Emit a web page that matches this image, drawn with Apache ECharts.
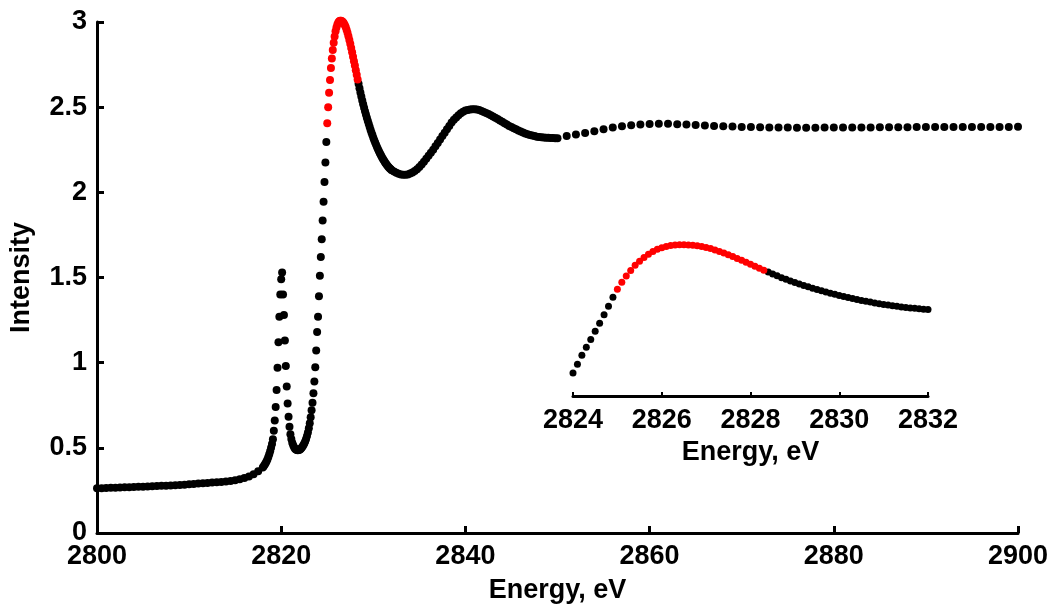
<!DOCTYPE html>
<html><head><meta charset="utf-8">
<script src="https://cdn.jsdelivr.net/npm/echarts@6/dist/echarts.min.js"></script>
<style>html,body{margin:0;padding:0;background:#fff}#c{width:1055px;height:610px}</style>
</head><body><div id="c"></div><script>
// ---- data ----
const preEdgeEnergy = [2800.0,2800.5,2801.0,2801.5,2802.0,2802.5,2803.0,2803.5,2804.0,2804.5,2805.0,2805.5,2806.0,2806.5,2807.0,2807.5,2808.0,2808.5,2809.0,2809.5,2810.0,2810.5,2811.0,2811.5,2812.0,2812.5,2813.0,2813.5,2814.0,2814.5,2815.0,2815.5,2816.0,2816.5,2817.0,2817.5];
const preEdgeIntensity = [0.262,0.263,0.264,0.265,0.266,0.267,0.268,0.269,0.270,0.271,0.272,0.273,0.274,0.276,0.277,0.278,0.279,0.281,0.282,0.284,0.286,0.288,0.290,0.292,0.294,0.296,0.298,0.300,0.303,0.306,0.310,0.316,0.323,0.332,0.345,0.362];

const edgeEnergy = [
 2818.0,2818.1,2818.2,2818.3,2818.4,2818.5,2818.6,2818.7,2818.8,2818.9,
 2819.0,2819.1,2819.2,2819.3,2819.4,2819.5,2819.6,2819.7,2819.8,2819.9,
 2820.0,2820.1,2820.2,2820.3,2820.4,2820.5,2820.6,2820.7,2820.8,2820.9,
 2821.0,2821.1,2821.2,2821.3,2821.4,2821.5,2821.6,2821.7,2821.8,2821.9,
 2822.0,2822.1,2822.2,2822.3,2822.4,2822.5,2822.6,2822.7,2822.8,2822.9,
 2823.0,2823.1,2823.2,2823.3,2823.4,2823.5,2823.6,2823.7,2823.8,2823.9,
 2824.0,2824.1,2824.2,2824.3,2824.4,2824.5,2824.6,2824.7,2824.8,2824.9,
 2825.0,2825.1,2825.2,2825.3,2825.4,2825.5,2825.6,2825.7,2825.8,2825.9,
 2826.0,2826.1,2826.2,2826.3,2826.4,2826.5,2826.6,2826.7,2826.8,2826.9,
 2827.0,2827.1,2827.2,2827.3,2827.4,2827.5,2827.6,2827.7,2827.8,2827.9,
 2828.0,2828.1,2828.2,2828.3,2828.4,2828.5,2828.6,2828.7,2828.8,2828.9,
 2829.0,2829.1,2829.2,2829.3,2829.4,2829.5,2829.6,2829.7,2829.8,2829.9,
 2830.0,2830.1,2830.2,2830.3,2830.4,2830.5,2830.6,2830.7,2830.8,2830.9,
 2831.0,2831.1,2831.2,2831.3,2831.4,2831.5,2831.6,2831.7,2831.8,2831.9,
 2832.0];
const edgeIntensity = [
 0.385,0.392,0.400,0.410,0.420,0.432,0.446,0.462,0.480,0.500,
 0.522,0.550,0.600,0.660,0.740,0.840,0.970,1.120,1.270,1.400,
 1.490,1.530,1.400,1.280,1.130,0.980,0.860,0.760,0.683,0.624,
 0.580,0.552,0.530,0.515,0.503,0.495,0.490,0.487,0.486,0.487,
 0.489,0.493,0.499,0.506,0.515,0.525,0.537,0.552,0.570,0.590,
 0.615,0.645,0.680,0.720,0.765,0.820,0.889,0.973,1.071,1.180,
 1.270,1.390,1.510,1.620,1.725,1.835,1.945,2.060,2.175,2.295,
 2.405,2.500,2.585,2.660,2.730,2.785,2.835,2.878,2.915,2.945,
 2.968,2.985,2.997,3.004,3.008,3.008,3.005,3.000,2.992,2.982,
 2.970,2.955,2.937,2.917,2.895,2.872,2.848,2.822,2.796,2.770,
 2.744,2.717,2.690,2.663,2.637,2.611,2.586,2.562,2.539,2.517,
 2.496,2.476,2.457,2.438,2.420,2.402,2.385,2.368,2.352,2.336,
 2.321,2.306,2.292,2.279,2.266,2.254,2.242,2.231,2.220,2.210,
 2.200,2.191,2.182,2.174,2.166,2.159,2.152,2.146,2.140,2.135,
 2.130];

const postEdgeEnergy = [
 2832.25,2832.5,2832.75,2833.0,2833.25,2833.5,2833.75,2834.0,
 2834.25,2834.5,2834.75,2835.0,2835.25,2835.5,2835.75,2836.0,
 2836.25,2836.5,2836.75,2837.0,2837.25,2837.5,2837.75,2838.0,
 2838.25,2838.5,2838.75,2839.0,2839.25,2839.5,2839.75,2840.0,
 2840.25,2840.5,2840.75,2841.0,2841.25,2841.5,2841.75,2842.0,
 2842.25,2842.5,2842.75,2843.0,2843.25,2843.5,2843.75,2844.0,
 2844.25,2844.5,2844.75,2845.0,2845.25,2845.5,2845.75,2846.0,
 2846.25,2846.5,2846.75,2847.0,2847.25,2847.5,2847.75,2848.0,
 2848.25,2848.5,2848.75,2849.0,2849.25,2849.5,2849.75,2850.0];
const postEdgeIntensity = [
 2.122,2.115,2.109,2.105,2.103,2.103,2.105,2.110,
 2.117,2.125,2.136,2.148,2.163,2.180,2.197,2.215,
 2.232,2.250,2.270,2.290,2.310,2.330,2.350,2.370,
 2.390,2.410,2.426,2.440,2.453,2.465,2.473,2.480,
 2.484,2.487,2.488,2.488,2.486,2.483,2.478,2.472,
 2.466,2.460,2.453,2.445,2.438,2.430,2.422,2.414,
 2.406,2.398,2.390,2.383,2.376,2.370,2.363,2.357,
 2.351,2.346,2.341,2.337,2.333,2.330,2.327,2.325,
 2.323,2.322,2.321,2.320,2.319,2.319,2.318,2.318];

const tailEnergy = [2851,2852,2853,2854,2855,2856,2857,2858,2859,2860,2861,2862,2863,2864,2865,2866,2867,2868,2869,2870,2871,2872,2873,2874,2875,2876,2877,2878,2879,2880,2881,2882,2883,2884,2885,2886,2887,2888,2889,2890,2891,2892,2893,2894,2895,2896,2897,2898,2899,2900];
const tailIntensity = [2.331,2.339,2.349,2.359,2.370,2.380,2.388,2.394,2.398,2.401,2.402,2.402,2.400,2.398,2.396,2.393,2.390,2.388,2.386,2.384,2.383,2.382,2.381,2.380,2.380,2.379,2.379,2.379,2.380,2.380,2.380,2.381,2.381,2.381,2.382,2.382,2.382,2.382,2.383,2.383,2.383,2.383,2.383,2.384,2.384,2.384,2.384,2.384,2.384,2.385];

const highlightRange = [2825.0, 2828.3];   // red-marked points
const insetRange = [2824, 2832];           // zoomed window

// ---- build series data ----
const allE = [].concat(preEdgeEnergy, edgeEnergy, postEdgeEnergy, tailEnergy);
const allI = [].concat(preEdgeIntensity, edgeIntensity, postEdgeIntensity, tailIntensity);
const eps = 1e-6;
function inRange(e, r) { return e >= r[0] - eps && e <= r[1] + eps; }
const mainBlack = [], mainRed = [], insetBlack = [], insetRed = [];
allE.forEach((e, i) => {
  const p = [e, allI[i]];
  const red = inRange(e, highlightRange);
  (red ? mainRed : mainBlack).push(p);
  if (inRange(e, insetRange)) (red ? insetRed : insetBlack).push(p);
});

const FONT = '"Liberation Sans", Arial, sans-serif';
const txt = { color: '#000', fontFamily: FONT, fontWeight: 'bold', fontSize: 27 };
const axisLine = { show: true, onZero: false, lineStyle: { color: '#000', width: 3 } };
const plain = v => String(v);

const chart = echarts.init(document.getElementById('c'), null, { renderer: 'canvas' });
chart.setOption({
  animation: false,
  backgroundColor: '#fff',
  grid: [
    { left: 97, right: 37, top: 22, bottom: 77 },
    { left: 573, right: 127, top: 230.5, bottom: 214 }
  ],
  xAxis: [
    { gridIndex: 0, type: 'value', min: 2800, max: 2900, interval: 20,
      axisLine: axisLine,
      axisTick: { show: true, inside: true, length: 7, lineStyle: { color: '#000', width: 3 } },
      axisLabel: Object.assign({ margin: 10, formatter: plain }, txt),
      splitLine: { show: false },
      name: 'Energy, eV', nameLocation: 'middle', nameGap: 44, nameTextStyle: txt },
    { gridIndex: 1, type: 'value', min: insetRange[0], max: insetRange[1], interval: 2,
      axisLine: axisLine,
      axisTick: { show: true, inside: true, length: 4, lineStyle: { color: '#000', width: 2 } },
      axisLabel: Object.assign({ margin: 11, formatter: plain }, txt),
      splitLine: { show: false },
      name: 'Energy, eV', nameLocation: 'middle', nameGap: 43, nameTextStyle: txt }
  ],
  yAxis: [
    { gridIndex: 0, type: 'value', min: 0, max: 3, interval: 0.5,
      axisLine: axisLine,
      axisTick: { show: true, inside: true, length: 7, lineStyle: { color: '#000', width: 3 } },
      axisLabel: Object.assign({ margin: 10, formatter: plain }, txt),
      splitLine: { show: false },
      name: 'Intensity', nameLocation: 'middle', nameGap: 62, nameRotate: 90, nameTextStyle: txt },
    { gridIndex: 1, type: 'value', min: 0.96, max: 3.2, show: false,
      splitLine: { show: false } }
  ],
  series: [
    { type: 'scatter', xAxisIndex: 0, yAxisIndex: 0, data: mainBlack, symbolSize: 8,
      itemStyle: { color: '#000', opacity: 1 }, clip: false, silent: true },
    { type: 'scatter', xAxisIndex: 0, yAxisIndex: 0, data: mainRed, symbolSize: 8,
      itemStyle: { color: '#ff0000', opacity: 1 }, clip: false, silent: true },
    { type: 'scatter', xAxisIndex: 1, yAxisIndex: 1, data: insetBlack, symbolSize: 7,
      itemStyle: { color: '#000', opacity: 1 }, clip: false, silent: true },
    { type: 'scatter', xAxisIndex: 1, yAxisIndex: 1, data: insetRed, symbolSize: 7,
      itemStyle: { color: '#ff0000', opacity: 1 }, clip: false, silent: true }
  ]
});
</script></body></html>
